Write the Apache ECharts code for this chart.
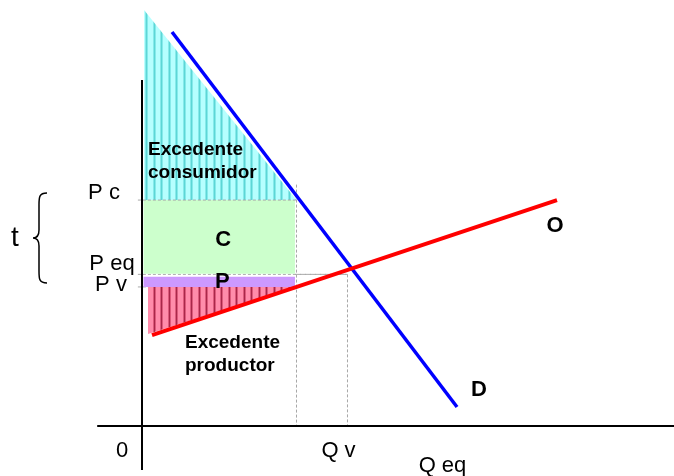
<!DOCTYPE html>
<html>
<head>
<meta charset="utf-8">
<script src="https://cdn.jsdelivr.net/npm/echarts@6/dist/echarts.min.js"></script>
<style>
  html, body { margin: 0; padding: 0; background: #ffffff; }
  #chart { width: 674px; height: 476px; }
</style>
</head>
<body>
<div id="chart"></div>
<script>
// Tax incidence diagram: demand (D), supply (O), consumer / producer surplus
// and the tax wedge t split between consumers (C) and producers (P).

// Quantities on the horizontal axis
const qtyTicks = [0, 3.0, 3.99];
const qtyTickLabels = ['0', 'Q v', 'Q eq'];

// Prices on the vertical axis
const priceTicks = [13.29, 8.92, 8.18];
const priceTickLabels = ['P c', 'P eq', 'P v'];

// Demand and supply curves (endpoints)
const demandLine = [[0.583, 23.18], [6.117, 1.12]];
const supplyLine = [[0.194, 5.35], [8.058, 13.29]];

// Shaded regions (polygon vertices)
const consumerSurplus = [[0.04, 24.47], [3.0, 13.29], [0.04, 13.29]];
const producerSurplus = [[0.117, 8.18], [3.0, 8.18], [0.117, 5.41]];
const taxConsumers = [[0.03, 13.29], [2.97, 13.29], [2.97, 8.96], [0.03, 8.96]];
const taxProducers = [[0.03, 8.78], [2.97, 8.78], [2.97, 8.18], [0.03, 8.18]];

// Axis lines
const yAxisLine = [[0, 20.35], [0, -2.59]];
const xAxisLine = [[-0.87, 0], [10.4, 0]];

const Q_V = qtyTicks[1], Q_EQ = qtyTicks[2];
const P_C = priceTicks[0], P_EQ = priceTicks[1], P_V = priceTicks[2];

const FONT = '"Liberation Sans", Arial, sans-serif';

function stripePattern(bg, mid, dark) {
  const c = document.createElement('canvas');
  c.width = 15; c.height = 4;
  const g = c.getContext('2d');
  g.fillStyle = bg; g.fillRect(0, 0, 15, 4);
  [3, 10].forEach(function (x) {
    g.fillStyle = mid; g.fillRect(x, 0, 1, 4); g.fillRect(x + 2, 0, 1, 4);
    g.fillStyle = dark; g.fillRect(x + 1, 0, 1, 4);
  });
  return { image: c, repeat: 'repeat' };
}

const cyanStripes = stripePattern('#b6ffff', '#86eaea', '#5cd6d6');
const redStripes = stripePattern('#ff8cab', '#dd5a7c', '#a8284a');

function polygonSeries(points, fill, z) {
  return {
    type: 'custom', coordinateSystem: 'cartesian2d', data: points, z: z,
    silent: true, clip: false,
    renderItem: function (params, api) {
      if (params.dataIndex !== 0) return null;
      return {
        type: 'polygon',
        shape: { points: points.map(function (p) { return api.coord(p); }) },
        style: { fill: fill, stroke: null }
      };
    }
  };
}

function lineSeries(points, color, width, type, z) {
  return {
    type: 'line', data: points, z: z, silent: true, symbol: 'none',
    animation: false, clip: false,
    lineStyle: { color: color, width: width, type: type, cap: 'butt' }
  };
}

// text annotations anchored to data positions, shifted by a pixel offset
function textSeries(items, z) {
  return {
    type: 'custom', coordinateSystem: 'cartesian2d', z: z, silent: true, clip: false,
    data: items.map(function (it) { return it.at; }),
    renderItem: function (params, api) {
      const it = items[params.dataIndex];
      const p = api.coord(it.at);
      return {
        type: 'text',
        x: p[0] + it.pos[0], y: p[1] + it.pos[1],
        style: {
          text: it.text,
          fill: '#000000',
          font: (it.bold ? 'bold ' : '') + it.size + 'px ' + FONT,
          align: it.align || 'center',
          verticalAlign: 'middle',
          lineHeight: it.lh || it.size
        }
      };
    }
  };
}

const chart = echarts.init(document.getElementById('chart'), null, { renderer: 'canvas' });

// brace marking the tax wedge t
const braceSeries = {
  type: 'custom', coordinateSystem: 'cartesian2d', data: [[0, P_C]], z: 8,
  silent: true, clip: false,
  renderItem: function (params, api) {
    const top = api.coord([0, P_C]);
    const bot = api.coord([0, P_V]);
    const y0 = top[1] - 7, y1 = bot[1] - 4, ym = (y0 + y1) / 2;
    const xr = top[0] - 95, xm = xr - 8, xt = xr - 14;
    const path = [
      'M', xr, y0, 'C', xm, y0, xm, y0 + 4, xm, y0 + 12,
      'L', xm, ym - 8, 'C', xm, ym - 2, xt + 3, ym, xt, ym,
      'C', xt + 3, ym, xm, ym + 2, xm, ym + 8,
      'L', xm, y1 - 12, 'C', xm, y1 - 4, xm, y1, xr, y1
    ].join(' ');
    return {
      type: 'path',
      shape: { pathData: path },
      style: { fill: null, stroke: '#000', lineWidth: 1.5 }
    };
  }
};

const labels = [
  { at: [0, P_C], text: priceTickLabels[0], pos: [-38, -7], size: 22 },
  { at: [0, P_EQ], text: priceTickLabels[1], pos: [-30, -10], size: 22 },
  { at: [0, P_V], text: priceTickLabels[2], pos: [-31, -2], size: 22 },
  { at: [qtyTicks[0], 0], text: qtyTickLabels[0], pos: [-20, 25], size: 22 },
  { at: [Q_V, 0], text: qtyTickLabels[1], pos: [42, 25], size: 22 },
  { at: [Q_EQ, 0], text: qtyTickLabels[2], pos: [95, 40], size: 22 },
  { at: [0, (P_C + P_V) / 2], text: 't', pos: [-127, -5], size: 28 },
  { at: [0, P_C], text: 'Excedente\nconsumidor', pos: [6, -39], size: 19, bold: true, align: 'left', lh: 23 },
  { at: [Q_V / 2, (P_C + 8.96) / 2], text: 'C', pos: [4, 3], size: 22, bold: true },
  { at: [Q_V / 2, (8.78 + P_V) / 2], text: 'P', pos: [3, 0], size: 22, bold: true },
  { at: [0, P_V], text: 'Excedente\nproductor', pos: [43, 67], size: 19, bold: true, align: 'left', lh: 23 },
  { at: supplyLine[1], text: 'O', pos: [-2, 26], size: 22, bold: true },
  { at: demandLine[1], text: 'D', pos: [22, -17], size: 22, bold: true }
];

const pxX = 51.5, pxY = 17;
const originX = 142, originY = 426;

chart.setOption({
  animation: false,
  backgroundColor: '#ffffff',
  grid: { left: 0, top: 0, width: 674, height: 476, containLabel: false },
  xAxis: { type: 'value', min: -originX / pxX, max: (674 - originX) / pxX, show: false },
  yAxis: { type: 'value', min: -(476 - originY) / pxY, max: originY / pxY, show: false },
  series: [
    // dashed guides (behind the fills)
    lineSeries([[-0.08, P_EQ], [Q_EQ, P_EQ]], '#a8a8a8', 1, [3, 2], 1),
    lineSeries([[-0.08, P_V], [Q_V, P_V]], '#a8a8a8', 1, [3, 2], 1),
    polygonSeries(consumerSurplus, cyanStripes, 2),
    polygonSeries(producerSurplus, redStripes, 2),
    polygonSeries(taxConsumers, '#ccffcc', 2),
    polygonSeries(taxProducers, '#cc99ff', 2),
    lineSeries([[-0.08, P_C], [Q_V, P_C]], '#a8a8a8', 1, [3, 2], 3),
    lineSeries([[Q_V, 14.2], [Q_V, 0]], '#a8a8a8', 1, [3, 2], 3),
    lineSeries([[Q_EQ, P_EQ], [Q_EQ, 0]], '#a8a8a8', 1, [3, 2], 3),
    lineSeries([[2.97, P_EQ], [Q_EQ, P_EQ]], '#a8a8a8', 1, [3, 2], 3),
    // axes
    lineSeries(yAxisLine, '#000000', 2, 'solid', 4),
    lineSeries(xAxisLine, '#000000', 2, 'solid', 4),
    // curves
    lineSeries(demandLine, '#0000ff', 3.5, 'solid', 5),
    lineSeries(supplyLine, '#ff0000', 4, 'solid', 5),
    braceSeries,
    textSeries(labels, 10)
  ]
});
</script>
</body>
</html>
